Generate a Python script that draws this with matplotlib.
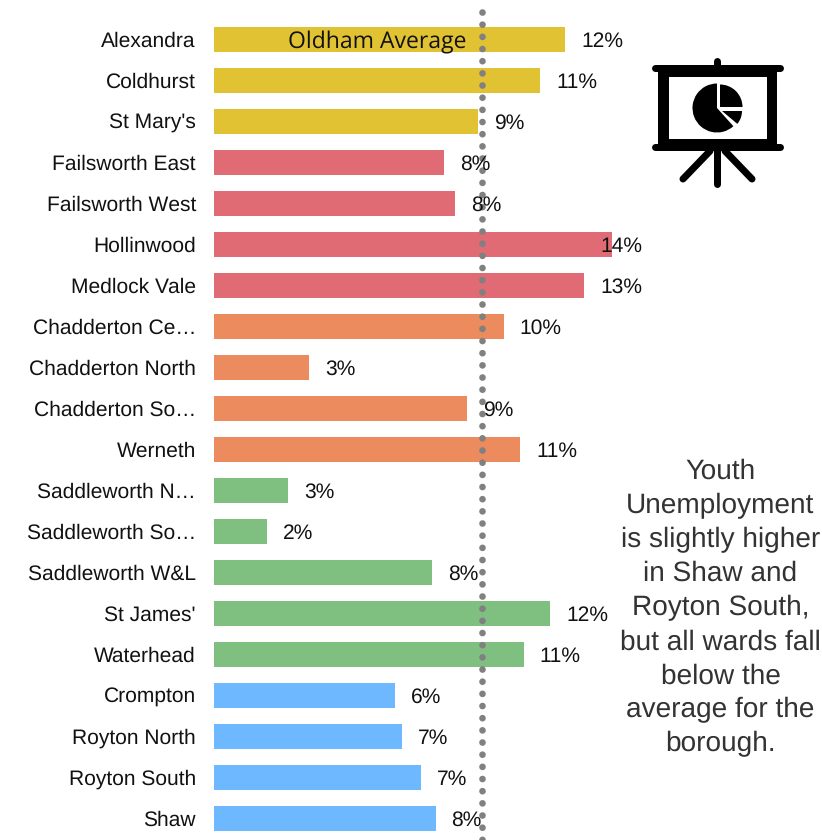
import matplotlib
matplotlib.use('Agg')
import matplotlib.pyplot as plt
from matplotlib.patches import Wedge, Rectangle

plt.rcParams['font.family'] = ['Liberation Sans', 'DejaVu Sans']
plt.rcParams['text.hinting'] = 'no_hinting'
plt.rcParams['text.hinting_factor'] = 1

wards = ['Alexandra', 'Coldhurst', "St Mary's", 'Failsworth East', 'Failsworth West',
         'Hollinwood', 'Medlock Vale', 'Chadderton Ce…', 'Chadderton North', 'Chadderton So…',
         'Werneth', 'Saddleworth N…', 'Saddleworth So…', 'Saddleworth W&L', "St James'",
         'Waterhead', 'Crompton', 'Royton North', 'Royton South', 'Shaw']
values = [12.36, 11.48, 9.3, 8.1, 8.5, 14.0, 13.03, 10.2, 3.35, 8.9,
          10.78, 2.6, 1.87, 7.68, 11.83, 10.9, 6.37, 6.63, 7.3, 7.8]
labels = ['12%', '11%', '9%', '8%', '8%', '14%', '13%', '10%', '3%', '9%',
          '11%', '3%', '2%', '8%', '12%', '11%', '6%', '7%', '7%', '8%']
colors = ['#E0C232'] * 3 + ['#E06B75'] * 4 + ['#EC8B5E'] * 4 + ['#7FBF80'] * 5 + ['#6DB8FF'] * 4
average = 9.44
note = 'Youth\nUnemployment\nis slightly higher\nin Shaw and\nRoyton South,\nbut all wards fall\nbelow the\naverage for the\nborough.'

W, H = 822, 840
px = 28.4  # pixels per percent

fig = plt.figure(figsize=(W / 100, H / 100), dpi=100)
ax = fig.add_axes([214 / W, 0, (W - 214) / W, 1])
ax.set_xlim(0, (W - 214) / px)
ax.set_ylim((H - 39.5) / 41, -39.5 / 41)

ypos = list(range(len(wards)))
ax.barh(ypos, values, height=0.61, color=colors, zorder=1)
ax.set_yticks(ypos)
ax.set_yticklabels(wards, fontsize=15.4, color='#111111')
ax.tick_params(axis='y', length=0, pad=13)
ax.xaxis.set_visible(False)
for s in ax.spines.values():
    s.set_visible(False)

# dotted average line, runs over the bars but under the text
ax.plot([average, average], [-0.67, 19.6], color='#808080', lw=4.8,
        linestyle=(0, (0.01, 1.815)), dash_capstyle='round', zorder=2)

for i, v in enumerate(values):
    # long bars get the label pulled back, Hollinwood sits on its bar end
    x = min(v + 16 / px, 13.6)
    ax.text(x, i + 0.04, labels[i], va='center', ha='left', fontsize=15.3, color='#111111', zorder=3)

# overlay in pixel coords for annotations and the icon
ov = fig.add_axes([0, 0, 1, 1])
ov.set_xlim(0, W)
ov.set_ylim(0, H)
ov.axis('off')
ov.patch.set_alpha(0)

ov.text(377, H - 42, 'Oldham Average', ha='center', va='center', fontsize=16.3,
        family=['Open Sans', 'DejaVu Sans'], color='#111111')
ov.text(720.5, H - 608, note, ha='center', va='center', fontsize=20, color='#333333',
        linespacing=1.39)

# presentation icon
def seg(x0, y0, x1, y1, lw=7):
    ov.plot([x0, x1], [H - y0, H - y1], color='black', lw=lw * 0.72, solid_capstyle='round')

seg(655, 68, 780, 68)
seg(655, 147, 780, 147)
seg(717, 61, 717, 68)
seg(717, 150, 717, 184)
seg(710, 151, 683, 179)
seg(725, 151, 752, 179)
ov.add_patch(Rectangle((658, H - 147), 11, 79, color='black', lw=0))
ov.add_patch(Rectangle((767, H - 147), 10, 79, color='black', lw=0))
ov.add_patch(Rectangle((658, H - 77), 119, 9, color='black', lw=0))
ov.add_patch(Rectangle((658, H - 147), 119, 8, color='black', lw=0))

ov.add_patch(Wedge((717, H - 108), 24.5, 90, 312, color='black', lw=0))
ov.add_patch(Wedge((720, H - 107), 22.5, 0, 90, color='black', lw=0))
ov.add_patch(Wedge((722, H - 111), 20, -40, 0, color='black', lw=0))

fig.savefig('out.png', dpi=100, facecolor='white')
